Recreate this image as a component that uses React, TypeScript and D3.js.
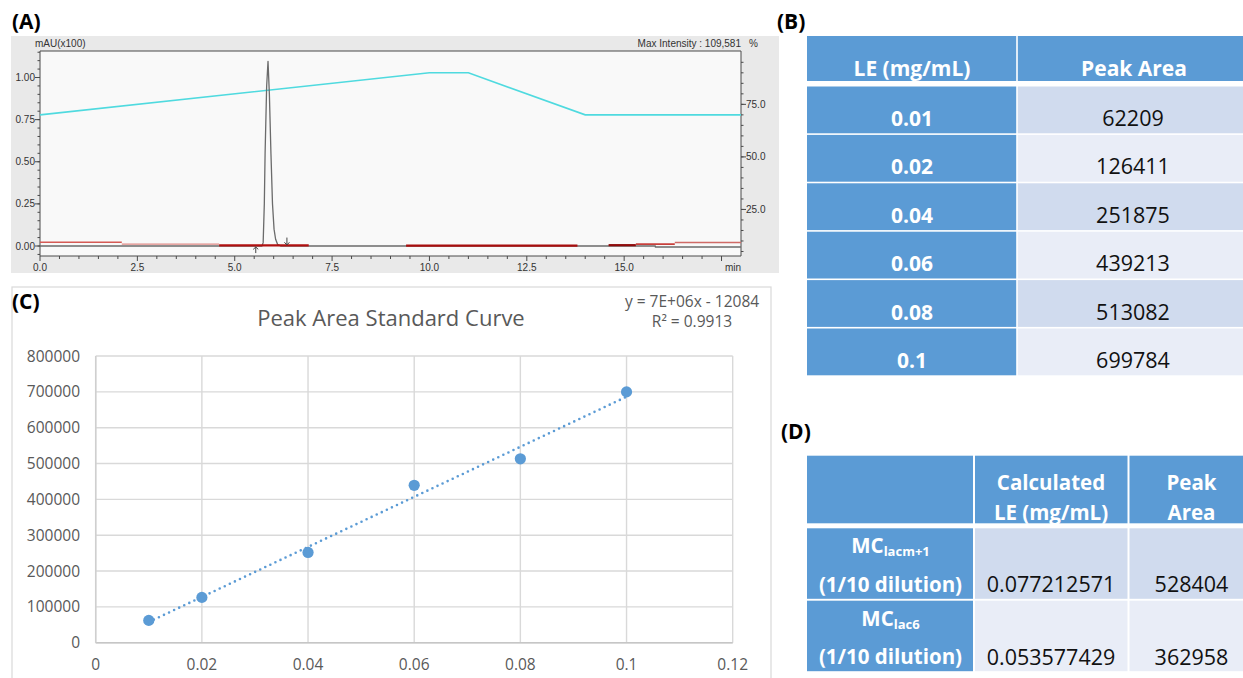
import React from "react";
import * as d3 from "d3";

// ---------- (A) HPLC chromatogram ----------
// absorbance trace (mAU x100) against retention time (min)
const traceTime = [0, 5.6, 5.7, 5.73, 5.76, 5.78, 5.82, 5.855, 5.89, 5.93, 5.97, 6.01, 6.05, 6.1, 6.18, 15.8, 15.8, 18];
const traceAbs = [0, 0, 0, 0.02, 0.25, 0.55, 0.95, 1.096, 0.9, 0.55, 0.25, 0.1, 0.04, 0.01, 0, 0, -0.006, -0.006];
// mobile-phase gradient (%B)
const gradTime = [0, 10, 11, 14, 18];
const gradPct = [70, 90, 90, 70, 70];
// reference baseline trace, drawn as level segments
const refStart = [0, 2.1, 4.6, 9.4, 14.6, 15.3, 16.3];
const refEnd = [2.1, 4.6, 6.9, 13.8, 15.3, 16.3, 18];
const refLevel = [0.022, 0.011, 0.004, 0.002, 0.005, 0.011, 0.021];
const refColors = ["#d65a55", "#e08a86", "#b01010", "#a80d0d", "#8e0a0a", "#c8403c", "#d06a66"];
const refWidths = [1.4, 1.2, 2.2, 2.4, 2.2, 1.6, 1.6];
// peak integration marks (min)
const integStart = 5.54;
const integEnd = 6.34;
const maxIntensity = "109,581";

const timeTicks = [0, 2.5, 5, 7.5, 10, 12.5, 15];
const absTicks = [0, 0.25, 0.5, 0.75, 1.0];
const pctTicks = [25, 50, 75];

// ---------- (B) / (C) standard curve ----------
const leConc = [0.01, 0.02, 0.04, 0.06, 0.08, 0.1];
const leLabels = ["0.01", "0.02", "0.04", "0.06", "0.08", "0.1"];
const peakArea = [62209, 126411, 251875, 439213, 513082, 699784];
const curveXTicks = [0, 0.02, 0.04, 0.06, 0.08, 0.1, 0.12];
const curveXLabels = ["0", "0.02", "0.04", "0.06", "0.08", "0.1", "0.12"];
const curveYTicks = [0, 100000, 200000, 300000, 400000, 500000, 600000, 700000, 800000];

// ---------- (D) samples ----------
const sampleSubs = ["lacm+1", "lac6"];
const sampleCalcLE = ["0.077212571", "0.053577429"];
const samplePeakArea = [528404, 362958];

const narrow = "'Liberation Sans Narrow', 'Arial Narrow', 'Liberation Sans', sans-serif";
const sans = "'Open Sans', 'Noto Sans', sans-serif";
const blue = "#5b9bd5";
const rowLight = ["#d0dbee", "#e9edf7"];

// least-squares fit for the trendline
function linearFit(xs: number[], ys: number[]) {
  const n = xs.length;
  const mx = d3.mean(xs)!;
  const my = d3.mean(ys)!;
  let sxy = 0, sxx = 0, syy = 0;
  for (let i = 0; i < n; i++) {
    sxy += (xs[i] - mx) * (ys[i] - my);
    sxx += (xs[i] - mx) ** 2;
    syy += (ys[i] - my) ** 2;
  }
  const slope = sxy / sxx;
  return { slope, intercept: my - slope * mx, r2: (sxy * sxy) / (sxx * syy) };
}

function excelSci(v: number) {
  const [m, e] = v.toExponential(0).split("e");
  const sign = e[0] === "-" ? "-" : "+";
  const digits = e.replace(/[+-]/, "").padStart(2, "0");
  return `${m}E${sign}${digits}`;
}

function Chromatogram() {
  const xA = d3.scaleLinear().domain([0, 18]).range([40, 741]);
  const yA = d3.scaleLinear().domain([0, 1]).range([246, 77.5]);
  const yP = d3.scaleLinear().domain([0, 100]).range([262, 51.8]);
  const top = 51, bottom = 256, left = 40, right = 741;

  const trace = d3.line<number>().x((_, i) => xA(traceTime[i])).y((_, i) => yA(traceAbs[i]))(traceTime)!;
  const grad = d3.line<number>().x((_, i) => xA(gradTime[i])).y((_, i) => yP(gradPct[i]))(gradTime)!;

  const minorT = d3.range(0, 17.51, 0.5);
  const minorA = d3.range(-0.05, 1.151, 0.05);
  const minorP = d3.range(5, 100, 5);
  const f1 = d3.format(".1f");
  const f2 = d3.format(".2f");
  const axisCol = "#4a4a4a";
  const txt = { fontFamily: narrow, fontSize: 10, fill: "#333" } as const;

  const xs = xA(integStart), xe = xA(integEnd);
  return (
    <g>
      <rect x={11} y={36} width={768} height={237} fill="#e9e9e9" />
      <rect x={left} y={top} width={right - left} height={bottom - top} fill="#f9f9f9" />
      <line x1={left} x2={right} y1={top} y2={top} stroke={axisCol} strokeWidth={1.2} />
      <line x1={left} x2={left} y1={top} y2={bottom} stroke={axisCol} />
      <line x1={right} x2={right} y1={top} y2={bottom} stroke={axisCol} />
      <line x1={left} x2={right} y1={bottom} y2={bottom} stroke={axisCol} />

      {minorT.map((t) => {
        const major = Math.abs(t / 2.5 - Math.round(t / 2.5)) < 1e-6;
        return <line key={"tt" + t} x1={xA(t)} x2={xA(t)} y1={bottom} y2={bottom + (major ? 5 : 3)} stroke={axisCol} />;
      })}
      {timeTicks.map((t) => (
        <text key={"tl" + t} x={xA(t)} y={271} textAnchor="middle" {...txt}>{f1(t)}</text>
      ))}
      <text x={733} y={271} textAnchor="middle" {...txt}>min</text>

      {minorA.filter((v) => yA(v) > top && yA(v) < bottom).map((v) => (
        <line key={"ta" + v} x1={left} x2={left - 2.5} y1={yA(v)} y2={yA(v)} stroke={axisCol} />
      ))}
      {absTicks.map((v) => (
        <g key={"la" + v}>
          <line x1={left} x2={left - 5} y1={yA(v)} y2={yA(v)} stroke={axisCol} />
          <text x={35} y={yA(v) + 3.5} textAnchor="end" {...txt}>{f2(v)}</text>
        </g>
      ))}
      <text x={35} y={47} {...txt}>mAU(x100)</text>

      {minorP.filter((v) => yP(v) > top && yP(v) < bottom).map((v) => (
        <line key={"tp" + v} x1={right} x2={right + 2.5} y1={yP(v)} y2={yP(v)} stroke={axisCol} />
      ))}
      {pctTicks.map((v) => (
        <g key={"lp" + v}>
          <line x1={right} x2={right + 5} y1={yP(v)} y2={yP(v)} stroke={axisCol} />
          <text x={746} y={yP(v) + 3.5} {...txt}>{f1(v)}</text>
        </g>
      ))}
      <text x={741} y={47} textAnchor="end" {...txt}>Max Intensity : {maxIntensity}</text>
      <text x={749} y={47} {...txt}>%</text>

      <path d={grad} fill="none" stroke="#4fdadf" strokeWidth={1.6} />
      <path d={trace} fill="none" stroke="#6b6b6b" strokeWidth={1.3} strokeLinejoin="round" />
      {refStart.map((s, i) => (
        <line key={"rf" + i} x1={xA(s)} x2={xA(refEnd[i])} y1={yA(refLevel[i])} y2={yA(refLevel[i])}
          stroke={refColors[i]} strokeWidth={refWidths[i]} />
      ))}

      {/* integration start / end arrows */}
      <g stroke="#444" strokeWidth={1} fill="none">
        <line x1={xs} x2={xs} y1={yA(-0.042)} y2={yA(-0.006)} />
        <polyline points={`${xs - 2.5},${yA(-0.02)} ${xs},${yA(-0.006)} ${xs + 2.5},${yA(-0.02)}`} />
        <line x1={xe} x2={xe} y1={yA(0.05)} y2={yA(0.006)} />
        <polyline points={`${xe - 2.5},${yA(0.022)} ${xe},${yA(0.006)} ${xe + 2.5},${yA(0.022)}`} />
      </g>
    </g>
  );
}

function StandardCurve() {
  const xC = d3.scaleLinear().domain([0, 0.12]).range([95.7, 732.7]);
  const yC = d3.scaleLinear().domain([0, 800000]).range([642.7, 356]);
  const fit = linearFit(leConc, peakArea);
  const x0 = d3.min(leConc)!, x1 = d3.max(leConc)!;
  const eq = `y = ${excelSci(fit.slope)}x - ${Math.round(-fit.intercept)}`;
  const grid = "#d9d9d9";
  const lab = { fontFamily: sans, fontSize: 15.5, fill: "#595959" } as const;
  return (
    <g>
      <rect x={12} y={287} width={759} height={420} fill="#fff" stroke="#d9d9d9" strokeWidth={1.2} />
      {curveYTicks.map((v) => (
        <line key={"gy" + v} x1={xC(0)} x2={xC(0.12)} y1={yC(v)} y2={yC(v)} stroke={grid} strokeWidth={1.4} />
      ))}
      {curveXTicks.map((v) => (
        <line key={"gx" + v} x1={xC(v)} x2={xC(v)} y1={yC(0)} y2={yC(800000)} stroke={grid} strokeWidth={1.4} />
      ))}
      <line x1={xC(0)} x2={xC(0.12)} y1={yC(0)} y2={yC(0)} stroke="#c6c6c6" strokeWidth={1.6} />
      <line x1={xC(0)} x2={xC(0)} y1={yC(0)} y2={yC(800000)} stroke="#cfcfcf" strokeWidth={1.5} />
      {curveYTicks.map((v) => (
        <text key={"ly" + v} x={80} y={yC(v) + 5.5} textAnchor="end" {...lab}>{String(v)}</text>
      ))}
      {curveXTicks.map((v, i) => (
        <text key={"lx" + v} x={xC(v)} y={670} textAnchor="middle" {...lab}>{curveXLabels[i]}</text>
      ))}
      <text x={391} y={325.5} textAnchor="middle" fontFamily={sans} fontSize={22} fill="#595959">Peak Area Standard Curve</text>
      <text x={692} y={306.5} textAnchor="middle" {...lab}>{eq}</text>
      <text x={692} y={326.5} textAnchor="middle" {...lab}>R² = {fit.r2.toFixed(4)}</text>

      <line x1={xC(x0)} x2={xC(x1)} y1={yC(fit.slope * x0 + fit.intercept)} y2={yC(fit.slope * x1 + fit.intercept)}
        stroke={blue} strokeWidth={2.6} strokeDasharray="0 5.6" strokeLinecap="round" />
      {leConc.map((c, i) => (
        <circle key={"pt" + i} cx={xC(c)} cy={yC(peakArea[i])} r={5.6} fill={blue} />
      ))}
    </g>
  );
}

function TableB() {
  const c0 = 807, c1 = 1017, c2 = 1255;
  const top0 = 86.5, step = 48.4;
  const bold = { fontFamily: sans, fontSize: 21, fontWeight: 700, fill: "#fff" } as const;
  const reg = { fontFamily: sans, fontSize: 21.5, fill: "#111" } as const;
  return (
    <g>
      <rect x={c0} y={36} width={c1 - c0 - 0.8} height={45} fill={blue} />
      <rect x={c1 + 0.8} y={36} width={c2 - c1} height={45} fill={blue} />
      <text x={(c0 + c1) / 2} y={76} textAnchor="middle" {...bold}>LE (mg/mL)</text>
      <text x={1134} y={76} textAnchor="middle" {...bold}>Peak Area</text>
      {leLabels.map((lab, i) => {
        const y = top0 + i * step;
        return (
          <g key={"rb" + i}>
            <rect x={c0} y={y} width={c1 - c0 - 0.8} height={step - 1.6} fill={blue} />
            <rect x={c1 + 0.8} y={y} width={c2 - c1} height={step - 1.6} fill={rowLight[i % 2]} />
            <text x={(c0 + c1) / 2} y={y + 39.5} textAnchor="middle" {...bold}>{lab}</text>
            <text x={1133} y={y + 39.5} textAnchor="middle" {...reg}>{String(peakArea[i])}</text>
          </g>
        );
      })}
    </g>
  );
}

function TableD() {
  const c0 = 807, c1 = 974, c2 = 1128.5, c3 = 1255;
  const rowTops = [528.3, 600.7];
  const rowH = 70.5;
  const bold = { fontFamily: sans, fontSize: 20.5, fontWeight: 700, fill: "#fff" } as const;
  const reg = { fontFamily: sans, fontSize: 21.5, fill: "#111" } as const;
  const hTop = 455.7, hH = 67.6;
  return (
    <g>
      <rect x={c0} y={hTop} width={c1 - c0 - 1} height={hH} fill={blue} />
      <rect x={c1 + 1} y={hTop} width={c2 - c1 - 2} height={hH} fill={blue} />
      <rect x={c2 + 1} y={hTop} width={c3 - c2} height={hH} fill={blue} />
      <text x={1051} y={490} textAnchor="middle" {...bold}>Calculated</text>
      <text x={1051} y={520} textAnchor="middle" {...bold}>LE (mg/mL)</text>
      <text x={1191.5} y={490} textAnchor="middle" {...bold}>Peak</text>
      <text x={1191.5} y={520} textAnchor="middle" {...bold}>Area</text>
      {sampleSubs.map((sub, i) => {
        const y = rowTops[i];
        return (
          <g key={"rd" + i}>
            <rect x={c0} y={y} width={c1 - c0 - 1} height={rowH} fill={blue} />
            <rect x={c1 + 1} y={y} width={c2 - c1 - 2} height={rowH} fill={rowLight[i % 2]} />
            <rect x={c2 + 1} y={y} width={c3 - c2} height={rowH} fill={rowLight[i % 2]} />
            <text x={890.5} y={y + 25} textAnchor="middle" {...bold}>
              MC<tspan fontSize={13} dy={3}>{sub}</tspan>
            </text>
            <text x={890.5} y={y + 63.5} textAnchor="middle" {...bold}>(1/10 dilution)</text>
            <text x={1051} y={y + 64} textAnchor="middle" {...reg}>{sampleCalcLE[i]}</text>
            <text x={1191.5} y={y + 64} textAnchor="middle" {...reg}>{String(samplePeakArea[i])}</text>
          </g>
        );
      })}
    </g>
  );
}

export default function App() {
  const W = 1243, H = 678;
  const panel = { fontFamily: sans, fontSize: 21, fontWeight: 700, fill: "#000" } as const;
  return (
    <div style={{ position: "absolute", left: 0, top: 0 }}>
      <svg width={W} height={H} viewBox={`0 0 ${W} ${H}`} style={{ display: "block", background: "#fff" }}>
        <Chromatogram />
        <StandardCurve />
        <TableB />
        <TableD />
        <text x={12} y={28.5} {...panel}>(A)</text>
        <text x={777} y={28.5} {...panel}>(B)</text>
        <text x={12} y={308.5} {...panel}>(C)</text>
        <text x={781} y={438.5} {...panel}>(D)</text>
      </svg>
    </div>
  );
}
